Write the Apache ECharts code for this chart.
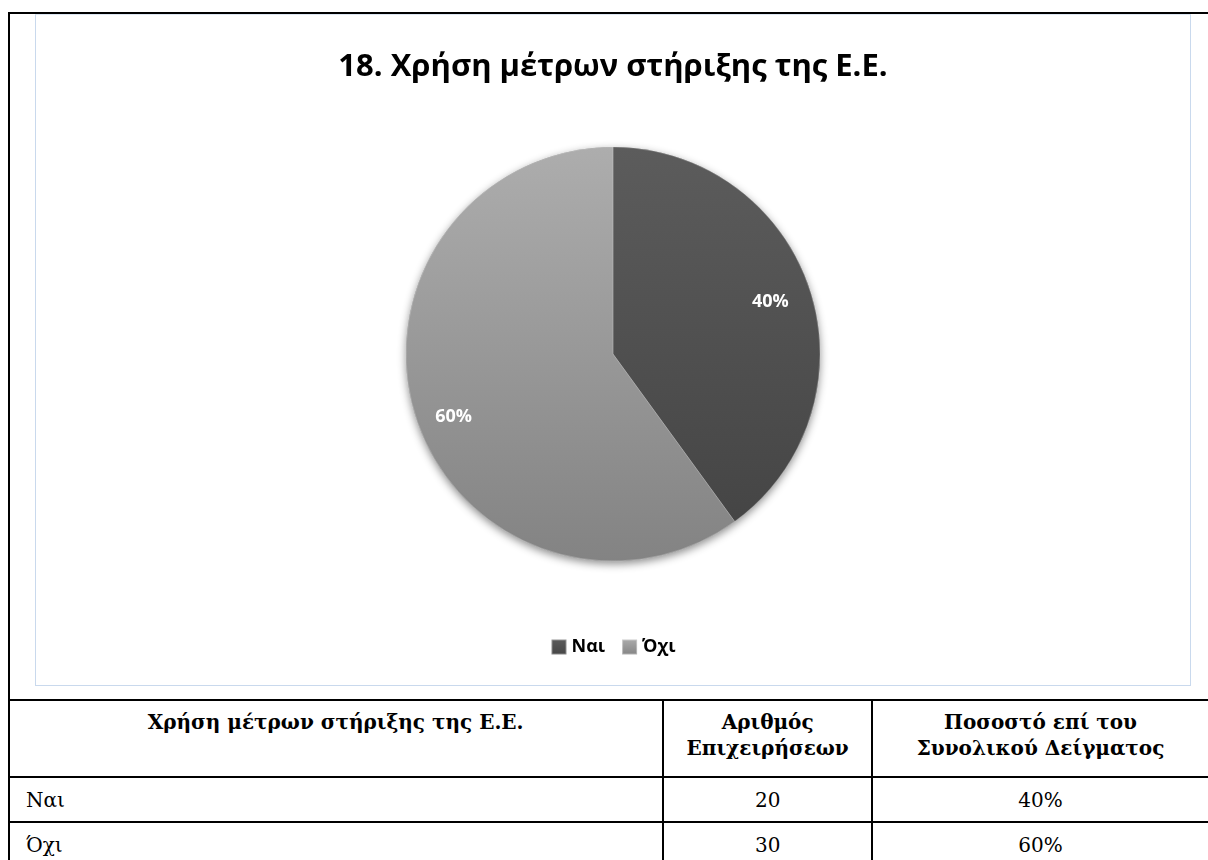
<!DOCTYPE html>
<html>
<head>
<meta charset="utf-8">
<script src="https://cdn.jsdelivr.net/npm/echarts@6/dist/echarts.min.js"></script>
<style>
  html, body { margin: 0; padding: 0; background: #fff; }
  body { width: 1208px; height: 860px; position: relative; overflow: hidden; }
  #topline { position: absolute; left: 8px; top: 12px; width: 1200px; height: 2px; background: #000; }
  #leftline { position: absolute; left: 8px; top: 12px; width: 2px; height: 848px; background: #000; }
  #frame { position: absolute; left: 35px; top: 14px; width: 1156px; height: 672px; box-sizing: border-box; border: 1px solid #c9d9ed; border-top-color: #dce6f2; }
  #chart { position: absolute; left: 36px; top: 15px; width: 1154px; height: 670px; }
  #tbl { position: absolute; left: 9px; top: 699px; border-collapse: collapse; font-family: "DejaVu Serif", serif; font-size: 20px; color: #000; }
  #tbl td, #tbl th { border-top: 2px solid #000; border-bottom: 2px solid #000; border-left: 2px solid #000; padding: 0; }
  #tbl tr > *:first-child { border-left: none; }
  #tbl th { font-weight: bold; vertical-align: top; white-space: pre-line; text-align: center; line-height: 26px; padding-top: 8px; height: 67px; }
  #tbl td { height: 43px; text-align: center; vertical-align: middle; }
  #tbl td.cat { text-align: left; padding-left: 17px; }
</style>
</head>
<body>
<div id="topline"></div>
<div id="leftline"></div>
<div id="frame"></div>
<div id="chart"></div>
<table id="tbl"></table>
<script>
const chartTitle = '18. Χρήση μέτρων στήριξης της Ε.Ε.';
const categories = ['Ναι', 'Όχι'];
const counts = [20, 30];
const percentLabels = ['40%', '60%'];
const tableHeaders = ['Χρήση μέτρων στήριξης της Ε.Ε.', 'Αριθμός\nΕπιχειρήσεων', 'Ποσοστό επί του\nΣυνολικού Δείγματος'];
const colWidths = [656, 207, 336];

// Table
const tbl = document.getElementById('tbl');
let html = '<tr>';
tableHeaders.forEach((h, i) => { html += '<th style="width:' + colWidths[i] + 'px">' + h + '</th>'; });
html += '</tr>';
categories.forEach((c, i) => {
  html += '<tr><td class="cat">' + c + '</td><td>' + counts[i] + '</td><td>' + percentLabels[i] + '</td></tr>';
});
tbl.innerHTML = html;

// Chart
const chart = echarts.init(document.getElementById('chart'));
const sliceColors = [
  new echarts.graphic.LinearGradient(0, 0, 0, 1, [{offset: 0, color: '#5c5c5c'}, {offset: 1, color: '#454545'}]),
  new echarts.graphic.LinearGradient(0, 0, 0, 1, [{offset: 0, color: '#adadad'}, {offset: 1, color: '#838383'}])
];
const labelOffsets = [[-3, 0], [1, 11]];
const center = [577, 339];
const R = 207;
chart.setOption({
  animation: false,
  title: {
    text: chartTitle,
    left: 'center',
    top: 32,
    textStyle: { fontFamily: 'Open Sans', fontWeight: 'bold', fontSize: 31, color: '#000' }
  },
  legend: {
    data: categories,
    bottom: 24,
    left: 'center',
    itemWidth: 15,
    itemHeight: 15,
    itemGap: 16,
    icon: 'rect',
    textStyle: { fontFamily: 'Open Sans', fontWeight: 'bold', fontSize: 18, color: '#000' }
  },
  series: [
    {
      type: 'pie',
      name: 'shadow',
      silent: true,
      z: 1,
      center: center,
      radius: [0, R],
      label: { show: false },
      labelLine: { show: false },
      itemStyle: { color: '#888', shadowBlur: 9, shadowOffsetY: 3, shadowColor: 'rgba(0,0,0,0.45)' },
      data: [{ name: '', value: 1 }]
    },
    {
      type: 'pie',
      name: 'main',
      z: 2,
      center: center,
      radius: [0, R],
      startAngle: 90,
      clockwise: true,
      label: { show: false },
      labelLine: { show: false },
      itemStyle: { borderColor: 'rgba(255,255,255,0.35)', borderWidth: 0.6 },
      data: categories.map((c, i) => ({ name: c, value: counts[i], itemStyle: { color: sliceColors[i] } }))
    },
    {
      type: 'pie',
      name: 'labels',
      z: 3,
      silent: true,
      center: center,
      radius: [R * 0.6, R],
      startAngle: 90,
      clockwise: true,
      itemStyle: { color: 'rgba(0,0,0,0)' },
      label: {
        show: true,
        position: 'inside',
        formatter: '{d}%',
        color: '#fff',
        fontFamily: 'Open Sans',
        fontWeight: 'bold',
        fontSize: 18
      },
      labelLine: { show: false },
      data: categories.map((c, i) => ({ name: c, value: counts[i], label: { offset: labelOffsets[i] } }))
    }
  ]
});
</script>
</body>
</html>
